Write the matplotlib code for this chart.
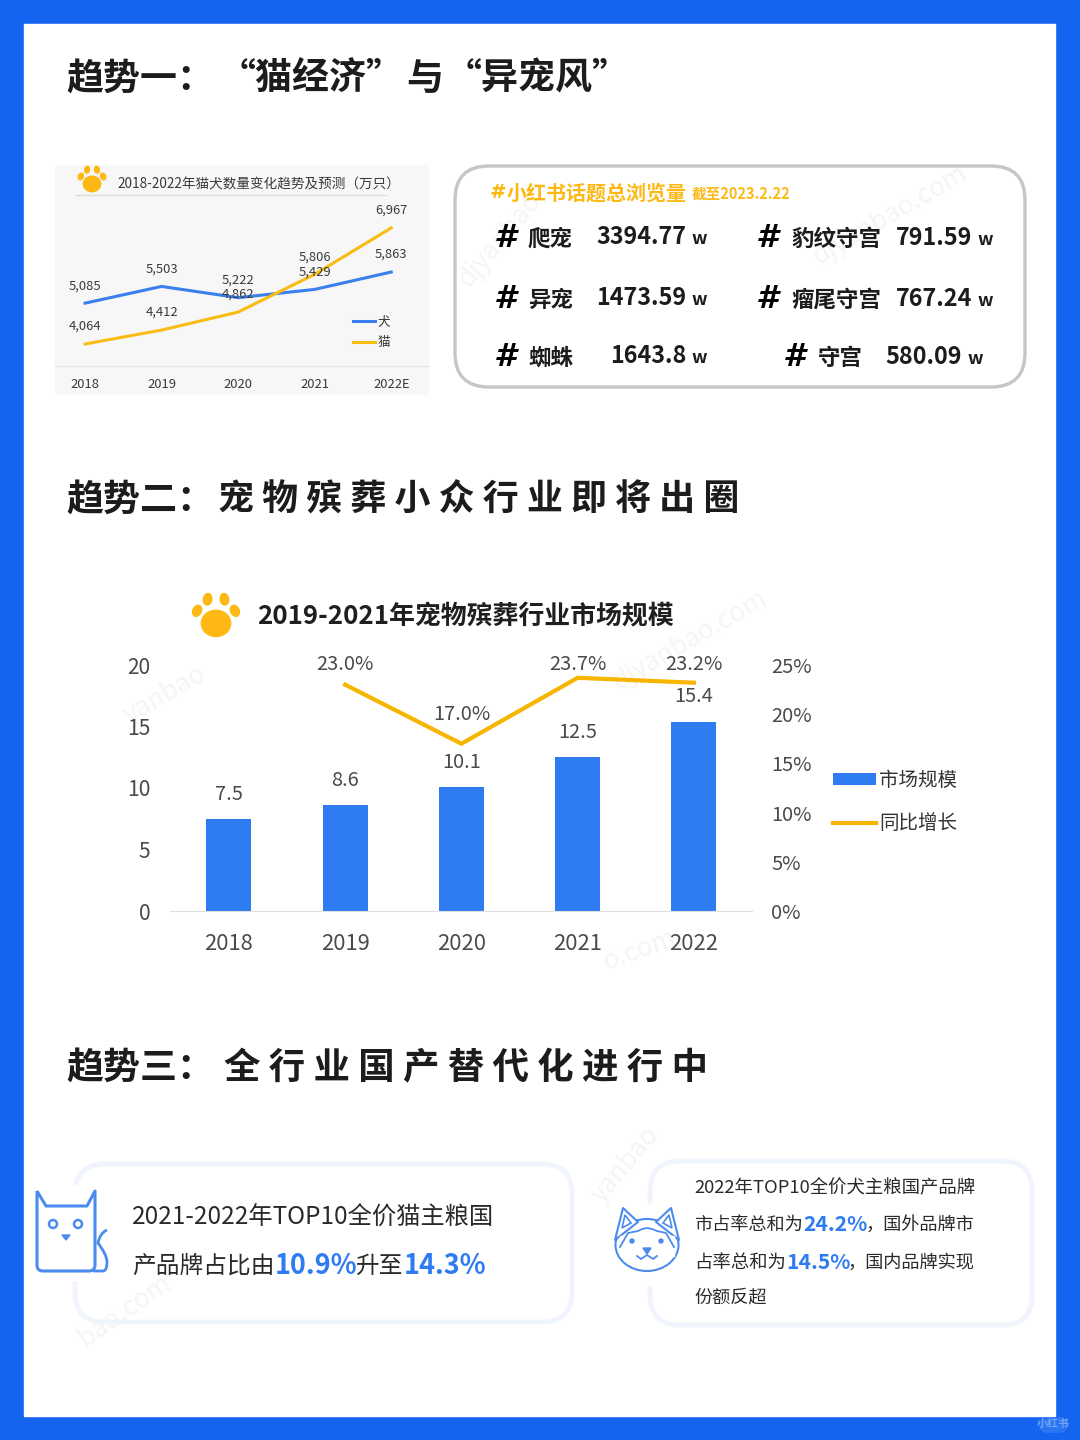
import matplotlib
matplotlib.use('Agg')
import matplotlib.pyplot as plt
from matplotlib.patches import Rectangle, FancyBboxPatch, Ellipse, Circle, Polygon
from matplotlib.path import Path
from matplotlib.patches import PathPatch

plt.rcParams['font.family'] = ['Noto Sans CJK SC', 'DejaVu Sans']

# small chart: cats and dogs
pet_years = ['2018', '2019', '2020', '2021', '2022E']
dog_counts = [5085, 5503, 5222, 5429, 5863]
cat_counts = [4064, 4412, 4862, 5806, 6967]

# big chart: market size
market_years = ['2018', '2019', '2020', '2021', '2022']
market_size = [7.5, 8.6, 10.1, 12.5, 15.4]
growth_years = [1, 2, 3, 4]
growth_pct = [23.0, 17.0, 23.7, 23.2]
growth_label_shift = [20, 29, 13, 18]
size_ticks = [0, 5, 10, 15, 20]
pct_ticks = [0, 5, 10, 15, 20, 25]

# topic table
topics_left = ['爬宠', '异宠', '蜘蛛']
views_left = ['3394.77', '1473.59', '1643.8']
topics_right = ['豹纹守宫', '瘤尾守宫', '守宫']
views_right = ['791.59', '767.24', '580.09']

BLUE = '#1464F0'
BAR = '#2F7CF2'
YEL = '#F8BC12'
INK = '#1c1c1c'
GREY = '#4a4a4a'
ICON = '#4C8BEE'
W, H = 1080, 1440


def fs(px):
    return px * 0.72


fig = plt.figure(figsize=(W / 100, H / 100), dpi=100, facecolor=BLUE)
bg = fig.add_axes([0, 0, 1, 1], zorder=0)
bg.set_xlim(0, W)
bg.set_ylim(H, 0)
bg.axis('off')


def axes_px(x0, y0, x1, y1, z=2):
    a = fig.add_axes([x0 / W, 1 - y1 / H, (x1 - x0) / W, (y1 - y0) / H], zorder=z)
    a.patch.set_alpha(0)
    return a


def txt(x, y, s, px, color=INK, weight='normal', ha='left', **kw):
    # the CJK font sits a little high, so push it down with its size
    bg.text(x, y + px * 0.09, s, fontsize=fs(px), color=color, fontweight=weight, ha=ha, va='center', **kw)


def paw(cx, cy, k, color='#FDB813'):
    bg.add_patch(Ellipse((cx, cy + 8 * k), 28 * k, 25 * k, color=color))
    for dx, dy, ang in [(-18, -4, 25), (-8, -15, 8), (8, -15, -8), (18, -4, -25)]:
        bg.add_patch(Ellipse((cx + dx * k, cy + dy * k), 8 * k, 11 * k, angle=ang, color=color))


def round_box(x0, y0, x1, y1, r, ec, lw, fc='white'):
    bg.add_patch(FancyBboxPatch((x0 + r, y0 + r), x1 - x0 - 2 * r, y1 - y0 - 2 * r,
                                boxstyle='round,pad=%d,rounding_size=%d' % (r, r),
                                fc=fc, ec=ec, lw=lw))


bg.add_patch(Rectangle((24, 24), 1031, 1392, color='white'))

# section titles
txt(66, 76, '趋势一：', 37, weight='bold')
txt(219, 76, '“猫经济”', 37, weight='bold')
txt(406, 76, '与', 37, weight='bold')
txt(445, 76, '“异宠风”', 37, weight='bold')
txt(66, 497, '趋势二：', 37, weight='bold')
txt(218, 497, ' '.join('宠物殡葬小众行业即将出圈'), 36, weight='bold')
txt(66, 1065, '趋势三：', 37, weight='bold')
txt(224, 1065, ' '.join('全行业国产替代化进行中'), 36.5, weight='bold')

# small line chart
bg.add_patch(Rectangle((55, 165), 373, 229, color='#F7F7F7'))
paw(92, 179, 0.62)
txt(117, 183, '2018-2022年猫犬数量变化趋势及预测（万只）', 13.6, color='#3a3a3a')
bg.plot([76, 386], [195, 195], color='#dddddd', lw=1)

ax = axes_px(55, 195, 428, 366)
xs = range(len(pet_years))
ax.plot(xs, dog_counts, color='#3A7FEE', lw=2.2, label='犬', solid_joinstyle='miter')
ax.plot(xs, cat_counts, color=YEL, lw=2.2, label='猫', solid_joinstyle='miter')
for vals in (dog_counts, cat_counts):
    for i, v in enumerate(vals):
        ax.annotate(f'{v:,}', (i, v), xytext=(0, 12.6), textcoords='offset points',
                    ha='center', va='center', fontsize=fs(13), color='#3a3a3a')
ax.set_xlim(-0.392, 4.48)
ax.set_ylim(3514, 7789)
ax.set_xticks(list(xs))
ax.set_xticklabels(pet_years, fontsize=fs(13), color='#3a3a3a')
ax.set_yticks([])
ax.tick_params(axis='x', length=0, pad=9)
for s in ('top', 'left', 'right'):
    ax.spines[s].set_visible(False)
ax.spines['bottom'].set_color('#e2e2e2')
ax.legend(loc='lower left', bbox_to_anchor=(0.80, 0.10), frameon=False, fontsize=fs(12.5),
          handlelength=1.76, handletextpad=0.15, labelspacing=0.62, labelcolor='#333333',
          borderpad=0, borderaxespad=0)

# topic box
round_box(455, 166, 1025, 387, 34, '#C6C6C6', 2.4)
txt(490, 191, '#', 20, color='#FDB813', weight='bold', family='DejaVu Sans', style='italic')
txt(507, 191, '小红书话题总浏览量', 20, color='#FDB813', weight='bold')
txt(692, 192, '截至2023.2.22', 14.6, color='#FDB813', weight='bold')
rows_y = [237, 298, 356]
right_hash_x = [767, 767, 794]
right_name_x = [791, 791, 818]
right_num_end = [972, 972, 962]
for i, y in enumerate(rows_y):
    txt(505, y - 1, '#', 32, color='black', weight='bold', ha='center', family='DejaVu Sans', style='italic')
    txt(528, y, topics_left[i], 22.5, weight='bold')
    txt(686, y - 2, views_left[i], 23.4, weight='bold', ha='right')
    txt(691, y, 'w', 18, weight='bold')
    txt(right_hash_x[i], y - 1, '#', 32, color='black', weight='bold', ha='center', family='DejaVu Sans', style='italic')
    txt(right_name_x[i], y, topics_right[i], 22.5, weight='bold')
    txt(right_num_end[i], y - 1, views_right[i], 23.4, weight='bold', ha='right')
    txt(right_num_end[i] + 5, y + 1, 'w', 18, weight='bold')

# market size chart
paw(216, 615, 1.05)
txt(257, 615, '2019-2021年宠物殡葬行业市场规模', 25.9, weight='bold', color='#1f1f1f')

ax1 = axes_px(170, 665, 752, 911)
bars = ax1.bar(range(len(market_years)), market_size, width=0.387, color=BAR, label='市场规模')
for i, v in enumerate(market_size):
    ax1.annotate(f'{v}', (i, v), xytext=(0, 17.8), textcoords='offset points',
                 ha='center', va='center', fontsize=fs(20), color=GREY)
ax1.set_xlim(-0.507, 4.5)
ax1.set_ylim(0, 20)
ax1.set_xticks(range(len(market_years)))
ax1.set_xticklabels(market_years, fontsize=fs(22), color=GREY)
ax1.set_yticks(size_ticks)
ax1.set_yticklabels([str(t) for t in size_ticks], fontsize=fs(21), color=GREY)
ax1.tick_params(axis='x', length=0, pad=16)
ax1.tick_params(axis='y', length=0, pad=14)
for s in ('top', 'left', 'right'):
    ax1.spines[s].set_visible(False)
ax1.spines['bottom'].set_color('#dedede')

ax2 = ax1.twinx()
ax2.patch.set_alpha(0)
line, = ax2.plot(growth_years, growth_pct, color='#F7B500', lw=3, label='同比增长', solid_joinstyle='miter')
for x, v, sh in zip(growth_years, growth_pct, growth_label_shift):
    ax2.annotate(f'{v:.1f}%', (x, v), xytext=(0, sh * 0.72), textcoords='offset points',
                 ha='center', va='center', fontsize=fs(20), color=GREY)
ax2.set_ylim(0, 25)
ax2.set_yticks(pct_ticks)
ax2.set_yticklabels([f'{t}%' for t in pct_ticks], fontsize=fs(20), color=GREY)
ax2.tick_params(axis='y', length=0, pad=14)
for s in ('top', 'left', 'right', 'bottom'):
    ax2.spines[s].set_visible(False)
ax2.legend([bars[0], line], ['市场规模', '同比增长'], loc='upper left', bbox_to_anchor=(663 / 582, 0.575),
           frameon=False, fontsize=fs(19.5), handlelength=2.2, handleheight=0.55, handletextpad=0.15,
           labelspacing=1.15, labelcolor='#333333', borderpad=0, borderaxespad=0)

# bottom cards
round_box(75, 1164, 572, 1322, 30, '#F0F5FD', 3.5)
round_box(650, 1161, 1032, 1325, 30, '#F0F5FD', 3.5)
bg.add_patch(Rectangle((60, 1185), 50, 95, color='white', zorder=2))
bg.add_patch(Rectangle((636, 1205), 44, 80, color='white', zorder=2))

txt(132, 1216, '2021-2022年TOP10全价猫主粮国', 24.3, color='#2a2a2a')
txt(132, 1264, '产品牌占比由', 23.7, color='#2a2a2a')
txt(275, 1264, '10.9%', 27, color=BAR, weight='bold')
txt(355, 1264, '升至', 23.7, color='#2a2a2a')
txt(404, 1264, '14.3%', 27, color=BAR, weight='bold')

txt(694, 1187, '2022年TOP10全价犬主粮国产品牌', 18.4, color='#2a2a2a')
txt(694, 1223, '市占率总和为', 18.2, color='#2a2a2a')
txt(803, 1223, '24.2%', 21, color=BAR, weight='bold')
txt(866, 1223, '，国外品牌市', 18.2, color='#2a2a2a')
txt(694, 1261, '占率总和为', 18.4, color='#2a2a2a')
txt(786, 1261, '14.5%', 21, color=BAR, weight='bold')
txt(848, 1261, '，国内品牌实现', 18.2, color='#2a2a2a')
txt(694, 1296, '份额反超', 18.2, color='#2a2a2a')

# cat icon
bg.add_patch(PathPatch(Path([(37, 1191), (37, 1265), (37, 1271), (43, 1271), (89, 1271), (95, 1271), (95, 1265), (95, 1191),
                             (87, 1206), (46, 1206), (37, 1191)],
                            [Path.MOVETO, Path.LINETO, Path.CURVE3, Path.CURVE3, Path.LINETO, Path.CURVE3, Path.CURVE3,
                             Path.LINETO, Path.LINETO, Path.LINETO, Path.LINETO]),
                       fc='none', ec=ICON, lw=2.2, zorder=3, joinstyle='round'))
bg.add_patch(PathPatch(Path([(93, 1271), (103, 1271), (107, 1271), (107, 1262), (107, 1255), (98, 1243), (100, 1233), (107, 1230)],
                            [Path.MOVETO, Path.LINETO, Path.CURVE3, Path.CURVE3, Path.CURVE3, Path.CURVE3, Path.CURVE3, Path.CURVE3]),
                       fc='none', ec=ICON, lw=2, zorder=3))
for ex in (53, 78):
    bg.add_patch(Circle((ex, 1224), 4, fc='none', ec=ICON, lw=1.8, zorder=3))
bg.add_patch(Polygon([(62, 1235), (70, 1235), (66, 1240)], color=ICON, zorder=3))

# dog icon
bg.add_patch(Ellipse((647, 1245), 63, 52, fc='white', ec=ICON, lw=1.5, zorder=3))
for pts in ([(615, 1240), (623, 1208), (638, 1222)], [(679, 1240), (671, 1208), (656, 1222)]):
    bg.add_patch(Polygon(pts, fc='white', ec=ICON, lw=1.5, zorder=3, joinstyle='round'))
for pts in ([(622, 1228), (625, 1215), (631, 1223)], [(672, 1228), (669, 1215), (663, 1223)]):
    bg.add_patch(Polygon(pts, fc='none', ec=ICON, lw=1.2, zorder=4))
bg.add_patch(Rectangle((620, 1236), 54, 20, color='white', zorder=3))
bg.plot([620, 628, 638, 642, 647, 652, 657, 666, 674],
        [1247, 1233, 1231, 1229, 1228, 1229, 1231, 1233, 1247], color=ICON, lw=1.3, zorder=4)
bg.add_patch(Circle((632, 1241), 2, color=ICON, zorder=4))
bg.add_patch(Circle((661, 1241), 2, color=ICON, zorder=4))
bg.add_patch(Polygon([(643, 1248), (651, 1248), (647, 1254)], color=ICON, zorder=4))
bg.plot([637, 641, 647, 653, 657], [1256, 1259, 1255, 1259, 1256], color=ICON, lw=1.3, zorder=4)

# faint watermarks
marks = [(165, 695, 'yanbao', 30), (690, 640, 'djyanbao.com', 30), (890, 215, 'djyanbao.com', 30),
         (500, 240, 'djyanbao', 50), (625, 1165, 'yanbao', 50), (125, 1310, 'bao.com', 35),
         (640, 950, 'o.com', 20)]
for x, y, s, rot in marks:
    bg.text(x, y, s, fontsize=fs(26), color='#f5f5f5', rotation=rot, ha='center', va='center', zorder=1)

# app badge, bottom right corner
bg.add_patch(FancyBboxPatch((1045, 1423), 17, 4, boxstyle='round,pad=6,rounding_size=9',
                            fc='#3C82F3', ec='none', alpha=0.55, zorder=5))
bg.text(1053.5, 1424, '小红书', fontsize=fs(11), color='#6FA3F6', fontweight='bold',
        ha='center', va='center', zorder=6)

fig.savefig('out.png', dpi=100, facecolor=BLUE)
